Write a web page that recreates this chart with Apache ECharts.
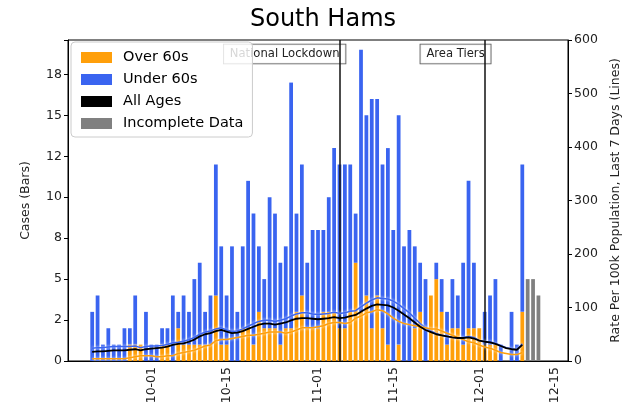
<!DOCTYPE html>
<html><head><meta charset="utf-8">
<script src="https://cdn.jsdelivr.net/npm/echarts@6/dist/echarts.min.js"></script>
<style>html,body{margin:0;padding:0;background:#fff}#c{width:625px;height:414px}</style>
</head><body><div id="c"></div>
<script>
const dates = ['09-16','09-17','09-18','09-19','09-20','09-21','09-22','09-23','09-24','09-25','09-26','09-27','09-28','09-29','09-30',
'10-01','10-02','10-03','10-04','10-05','10-06','10-07','10-08','10-09','10-10','10-11','10-12','10-13','10-14','10-15','10-16','10-17','10-18','10-19','10-20','10-21','10-22','10-23','10-24','10-25','10-26','10-27','10-28','10-29','10-30','10-31',
'11-01','11-02','11-03','11-04','11-05','11-06','11-07','11-08','11-09','11-10','11-11','11-12','11-13','11-14','11-15','11-16','11-17','11-18','11-19','11-20','11-21','11-22','11-23','11-24','11-25','11-26','11-27','11-28','11-29','11-30',
'12-01','12-02','12-03','12-04','12-05','12-06','12-07','12-08','12-09','12-10','12-11','12-12','12-13','12-14','12-15','12-16','12-17'];
const tickDates = ['10-01','10-15','11-01','11-15','12-01','12-15'];
const leftTickLabels = {0:'0',2.5:'2',5:'5',7.5:'8',10:'10',12.5:'12',15:'15',17.5:'18'};

// cases (bars)
const over60 = [null,null,null,null,
0,0,0,0,0,0,0,1,1,1,0,
0,0,1,1,0,2,1,1,1,1,1,1,4,1,1,0,0,2,2,1,3,2,2,2,1,2,2,3,4,2,2,
2,3,3,3,2,2,3,6,3,4,2,4,2,1,0,1,0,0,2,3,0,4,5,3,1,2,2,1,2,2,
2,1,1,1,0,0,0,0,3,
null,null,null,null,null,null,null,null];
const under60 = [null,null,null,null,
3,4,1,2,1,1,2,1,3,0,3,
1,1,1,1,4,1,3,2,4,5,2,3,8,6,3,7,3,5,9,8,4,3,8,7,5,5,15,6,8,4,6,
6,5,7,10,10,10,9,3,16,11,14,12,10,12,8,14,7,8,5,3,5,0,1,2,2,3,2,5,9,4,
0,2,3,4,1,0,3,1,9,
null,null,null,null,null,null,null,null];
const incomplete = [null,null,null,null,null,null,null,null,null,null,null,null,null,null,null,
null,null,null,null,null,null,null,null,null,null,null,null,null,null,null,null,null,null,null,null,null,null,null,null,null,null,null,null,null,null,null,
null,null,null,null,null,null,null,null,null,null,null,null,null,null,null,null,null,null,null,null,null,null,null,null,null,null,null,null,null,null,
null,null,null,null,null,null,null,null,null,5,5,4,null,null,null,null,null];

// rate per 100k, last 7 days (lines)
const rateAll = [null,null,null,null,
17,18,18,19,20,20,20,21,22,20,22,
23,24,25,27,30,32,33,36,40,46,50,52,56,58,55,52,53,56,60,64,68,70,70,68,70,72,76,79,80,80,79,
78,79,80,82,80,81,84,86,92,98,103,106,105,104,100,94,87,80,72,64,58,54,50,48,46,44,43,43,44,42,
38,36,35,32,28,24,22,21,30,
null,null,null,null,null,null,null,null];
const rateUnder60 = [null,null,null,null,
24,25,25,26,27,27,27,27,28,25,27,
28,28,29,31,34,35,37,40,44,50,54,56,60,62,58,55,56,60,65,70,74,76,76,74,76,79,84,88,90,90,88,
87,88,89,91,89,90,93,94,101,108,114,118,117,116,112,106,98,90,80,70,62,56,51,48,46,44,43,44,46,44,
38,36,36,33,29,25,23,21,32,
null,null,null,null,null,null,null,null];
const rateOver60 = [null,null,null,null,
4,4,4,4,4,4,4,6,8,10,10,
10,8,8,10,10,14,16,18,20,24,28,30,38,40,40,42,44,46,48,48,50,52,54,54,54,52,54,58,62,62,62,
64,66,70,72,72,70,72,80,84,90,92,96,94,88,80,74,70,68,66,64,62,60,60,56,52,48,44,40,36,34,
30,26,24,20,16,14,12,12,16,
null,null,null,null,null,null,null,null];

const FONT = 'DejaVu Sans';
const chart = echarts.init(document.getElementById('c'), null, {renderer:'canvas'});
const tickInterval = (i, v) => tickDates.indexOf(v) >= 0;
chart.setOption({
  animation: false,
  textStyle: {fontFamily: FONT},
  title: {text: 'South Hams', left: 318, top: 3, textAlign: 'center',
    textStyle: {fontFamily: FONT, fontSize: 24, fontWeight: 'normal', color: '#000'}},
  legend: {
    orient: 'vertical', left: 71, top: 42,
    data: [{name:'Over 60s', icon:'rect'},{name:'Under 60s', icon:'rect'},{name:'All Ages', icon:'rect'},{name:'Incomplete Data', icon:'rect'}],
    itemWidth: 31, itemHeight: 11, itemGap: 5,
    padding: [7, 9, 5, 10],
    backgroundColor: 'rgba(255,255,255,0.82)', borderColor: '#cccccc', borderWidth: 1, borderRadius: 4,
    textStyle: {fontFamily: FONT, fontSize: 14.5, color: '#000', padding: [0,0,0,6], lineHeight: 17},
    z: 50
  },
  grid: {left: 68, right: 57, top: 40, bottom: 53, show: true, borderColor: '#000', borderWidth: 1,
    containLabel: false, outerBoundsMode: 'none'},
  xAxis: {
    type: 'category', data: dates, boundaryGap: true,
    axisLine: {lineStyle: {color: '#000', width: 1}},
    axisTick: {alignWithLabel: true, interval: tickInterval, length: 4, lineStyle: {color: '#000'}},
    axisLabel: {interval: tickInterval, rotate: 90, fontSize: 12.5, color: '#222', fontFamily: FONT, margin: 6},
    splitLine: {show: false}
  },
  yAxis: [{
    type: 'value', min: 0, max: 19.6, interval: 2.5,
    name: 'Cases (Bars)', nameLocation: 'middle', nameRotate: 90, nameGap: 36,
    nameTextStyle: {fontFamily: FONT, fontSize: 12.5, color: '#222'},
    axisLine: {show: true, lineStyle: {color: '#000'}},
    axisTick: {show: true, length: 4, lineStyle: {color: '#000'}},
    axisLabel: {fontSize: 12.5, color: '#222', fontFamily: FONT, margin: 6,
      formatter: v => (leftTickLabels[v] !== undefined ? leftTickLabels[v] : '')},
    splitLine: {show: false}
  }, {
    type: 'value', min: 0, max: 600, interval: 100, position: 'right',
    name: 'Rate Per 100k Population, Last 7 Days (Lines)', nameLocation: 'middle', nameRotate: 90, nameGap: 41,
    nameTextStyle: {fontFamily: FONT, fontSize: 12.5, color: '#222'},
    axisLine: {show: true, lineStyle: {color: '#000'}},
    axisTick: {show: true, length: 4, lineStyle: {color: '#000'}},
    axisLabel: {fontSize: 12.5, color: '#222', fontFamily: FONT, margin: 6},
    splitLine: {show: false}
  }],
  series: [
    {name: 'Over 60s', type: 'bar', stack: 'cases', data: over60, barWidth: '70%',
     itemStyle: {color: '#ff9f0a'},
     markArea: {silent: true, itemStyle: {color: 'rgba(200,200,200,0.6)'}, data: [[{xAxis: '12-09'}, {xAxis: '12-13'}]]}},
    {name: 'Under 60s', type: 'bar', stack: 'cases', data: under60, itemStyle: {color: '#3a64f0'}},
    {name: 'Incomplete Data', type: 'bar', stack: 'cases', data: incomplete, itemStyle: {color: '#808080'}},
    {name: 'Under 60s rate', type: 'line', yAxisIndex: 1, data: rateUnder60, symbol: 'none', z: 5,
     lineStyle: {color: '#3a64f0', width: 1.5, shadowColor: 'rgba(255,255,255,0.9)', shadowBlur: 3}},
    {name: 'Over 60s rate', type: 'line', yAxisIndex: 1, data: rateOver60, symbol: 'none', z: 5,
     lineStyle: {color: '#ff9f0a', width: 1.5, shadowColor: 'rgba(255,255,255,0.9)', shadowBlur: 3}},
    {name: 'All Ages', type: 'line', yAxisIndex: 1, data: rateAll, symbol: 'none', z: 6, color: '#000',
     lineStyle: {color: '#000', width: 1.8},
     markLine: {silent: true, symbol: ['none','none'], label: {show: false},
       lineStyle: {color: '#111', width: 1.5, type: 'solid'},
       data: [{xAxis: '11-05'}, {xAxis: '12-02'}]},
     markPoint: {z: 3, symbol: 'rect', symbolSize: 1, itemStyle: {color: 'rgba(0,0,0,0)'},
       label: {show: true, position: 'inside', align: 'right', verticalAlign: 'middle', offset: [6, 14],
         fontFamily: FONT, fontSize: 11.6, color: '#222', backgroundColor: 'rgba(255,255,255,0.85)',
         borderColor: '#555', borderWidth: 0.8, padding: [4, 6, 3, 6]},
       data: [{coord: ['11-05', 600], value: 'National Lockdown', label: {formatter: 'National Lockdown'}},
              {coord: ['12-02', 600], value: 'Area Tiers', label: {formatter: 'Area Tiers'}}]}}
  ]
});
</script></body></html>
